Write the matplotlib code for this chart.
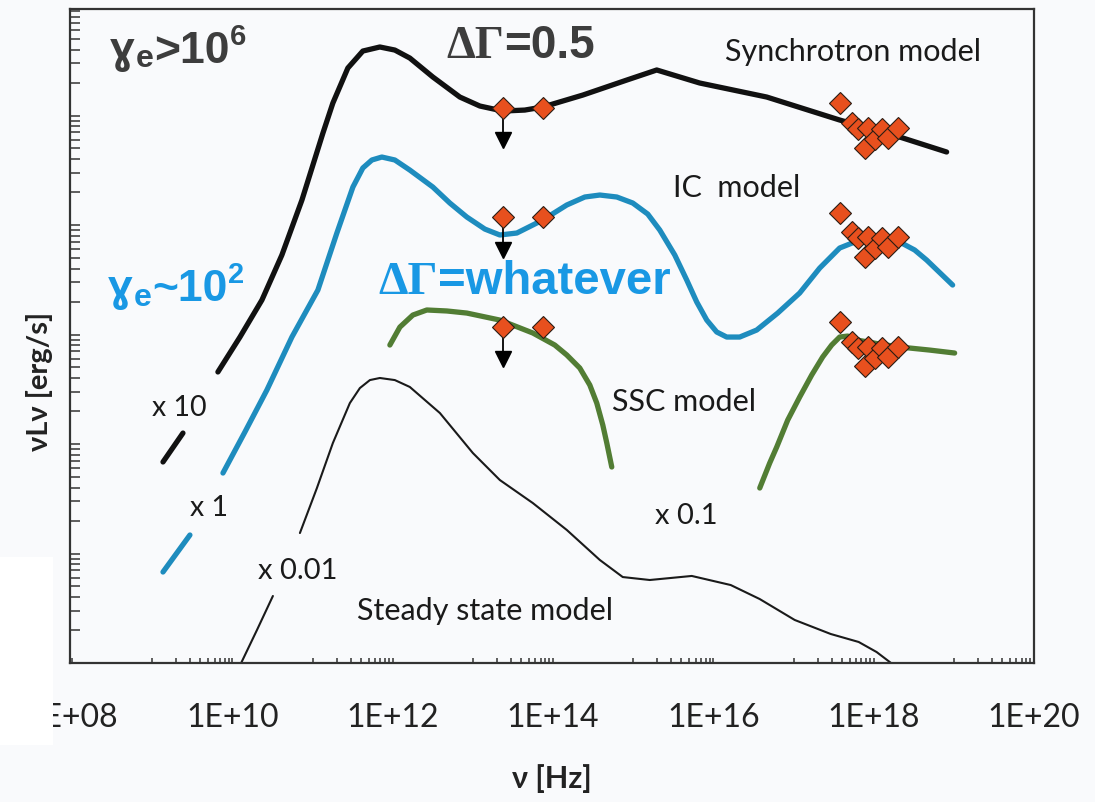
import numpy as np
import matplotlib.pyplot as plt
from matplotlib.patches import Rectangle
from matplotlib.ticker import FixedLocator, FuncFormatter, LogLocator, NullFormatter

plt.rcParams['font.family'] = ['Lato', 'DejaVu Sans']

# model SEDs: log10(nu [Hz]) and log10(nu L_nu [erg/s]), unscaled
sync_log_nu = [9.135, 9.384, np.nan, 9.820, 10.095, 10.369, 10.618, 10.868, 11.130, 11.254,
               11.441, 11.628, 11.840, 12.027, 12.214, 12.501, 12.838, 13.087, 13.374, 13.648,
               13.873, 14.372, 14.920, 15.294, 15.830, 16.666, 17.576, 18.324, 18.910]
sync_log_lum = [40.836, 41.100, np.nan, 41.658, 41.977, 42.315, 42.726, 43.228, 43.840, 44.114,
                44.434, 44.589, 44.626, 44.598, 44.525, 44.352, 44.169, 44.087, 44.041, 44.050,
                44.078, 44.187, 44.324, 44.416, 44.297, 44.169, 43.959, 43.804, 43.667]

ic_log_nu = [9.135, 9.471, np.nan, 9.883, 10.157, 10.431, 10.743, 11.067, 11.304, 11.504,
             11.628, 11.741, 11.865, 12.027, 12.214, 12.501, 12.713, 12.925, 13.150, 13.337,
             13.549, 13.873, 14.172, 14.397, 14.584, 14.796, 14.995, 15.182, 15.332, 15.519,
             15.668, 15.793, 15.918, 16.042, 16.167, 16.329, 16.541, 16.803, 17.077, 17.327,
             17.576, 17.825, 18.075, 18.324, 18.511, 18.661, 18.985]
ic_log_lum = [40.831, 41.169, np.nan, 41.735, 42.110, 42.493, 42.977, 43.406, 43.927, 44.347,
              44.521, 44.594, 44.621, 44.594, 44.502, 44.347, 44.201, 44.073, 43.963, 43.909,
              43.927, 44.046, 44.183, 44.256, 44.274, 44.256, 44.201, 44.100, 43.954, 43.726,
              43.498, 43.297, 43.132, 43.023, 42.977, 42.977, 43.041, 43.196, 43.379, 43.607,
              43.790, 43.863, 43.881, 43.845, 43.772, 43.680, 43.452]

ssc_log_nu = [11.965, 12.090, 12.252, 12.426, 12.676, 12.925, 13.337, 13.748, 14.022, 14.172,
              14.334, 14.459, 14.546, 14.621, 14.671, 14.733, np.nan, 16.579, 16.703, 16.791,
              16.928, 17.077, 17.227, 17.364, 17.476, 17.576, 17.676, 17.788, 18.075, 18.324,
              18.698, 19.010]
ssc_log_lum = [43.904, 44.068, 44.178, 44.224, 44.215, 44.196, 44.132, 44.014, 43.904, 43.813,
               43.694, 43.539, 43.374, 43.174, 43.009, 42.790, np.nan, 42.598, 42.826, 42.973,
               43.219, 43.429, 43.630, 43.795, 43.904, 43.977, 43.986, 43.950, 43.913, 43.886,
               43.858, 43.831]

steady_log_nu = [10.032, 10.307, 10.506, np.nan, 10.843, 11.055, 11.254, 11.466, 11.591, 11.716,
                 11.840, 12.027, 12.214, 12.589, 13.000, 13.337, 13.748, 14.172, 14.584, 14.870,
                 15.207, 15.731, 16.217, 16.579, 17.015, 17.464, 17.813, 18.037, 18.299]
steady_log_lum = [41.881, 42.301, 42.612, np.nan, 43.187, 43.598, 44.009, 44.374, 44.511, 44.584,
                  44.603, 44.584, 44.521, 44.283, 43.918, 43.671, 43.461, 43.215, 42.941, 42.785,
                  42.758, 42.795, 42.712, 42.584, 42.393, 42.265, 42.192, 42.100, 41.954]

# observed fluxes (first one is an upper limit)
obs_log_nu = [13.374, 13.873, 17.576, 17.726, 17.800, 17.888, 17.925, 18.012, 18.100, 18.175, 18.299]
obs_log_lum = [44.073, 44.073, 44.110, 43.936, 43.881, 43.708, 43.890, 43.790, 43.881, 43.799, 43.890]
obs_upper = [True, False, False, False, False, False, False, False, False, False, False]

# vertical offsets used to separate the models
sync_scale = 10
ic_scale = 1
ssc_scale = 0.1
steady_scale = 0.01

BG = '#f9fafc'
fig = plt.figure(figsize=(10.95, 8.02), dpi=100, facecolor=BG)
ax = fig.add_axes([70 / 1095, 139 / 802, 964 / 1095, 654 / 802], facecolor=BG)
ax.set_xscale('log')
ax.set_yscale('log')
ax.set_xlim(10 ** 7.975, 1e20)
ax.set_ylim(1e40, 10 ** 45.973)


def draw_model(log_nu, log_lum, scale, color, lw, with_data=True):
    nu = 10 ** np.array(log_nu)
    lum = 10 ** np.array(log_lum) * scale
    ax.plot(nu, lum, color=color, lw=lw, solid_capstyle='round', solid_joinstyle='round', zorder=2)
    if not with_data:
        return
    onu = 10 ** np.array(obs_log_nu)
    olum = 10 ** np.array(obs_log_lum) * scale
    for x, y, up in zip(onu, olum, obs_upper):
        if up:
            ax.plot([x, x], [y, y * 10 ** -0.25], color='black', lw=1.3, zorder=3)
            ax.plot(x, y * 10 ** -0.30, marker='v', ms=12, color='black', zorder=3)
    ax.plot(onu, olum, 'D', ms=11.5, mfc='#e8501e', mec='#2b1d14', mew=0.8, zorder=4)


draw_model(sync_log_nu, sync_log_lum, sync_scale, '#111111', 3.8)
draw_model(ic_log_nu, ic_log_lum, ic_scale, '#1e8cbe', 3.8)
draw_model(ssc_log_nu, ssc_log_lum, ssc_scale, '#527d34', 3.8)
draw_model(steady_log_nu, steady_log_lum, steady_scale, '#1a1a1a', 1.5, with_data=False)

# axes frame and ticks
for s in ax.spines.values():
    s.set_linewidth(1.6)
    s.set_color('#333333')

major_x = [10.0 ** d for d in range(8, 21, 2)]
minor_x = [k * 10.0 ** d for d in range(9, 20, 2) for k in range(1, 10)]
ax.xaxis.set_major_locator(FixedLocator(major_x))
ax.xaxis.set_minor_locator(FixedLocator(minor_x))
ax.xaxis.set_major_formatter(FuncFormatter(lambda v, p: '1E+%02d' % round(np.log10(v))))
ax.xaxis.set_minor_formatter(NullFormatter())
ax.tick_params(axis='x', which='both', direction='in', length=3.5, width=1.1, color='#333333')
ax.tick_params(axis='x', which='major', pad=29, labelsize=23, labelcolor='#222222')

ax.yaxis.set_major_locator(LogLocator(base=10, numticks=20))
ax.yaxis.set_minor_locator(LogLocator(base=10, subs=np.arange(2, 10), numticks=20))
ax.yaxis.set_major_formatter(NullFormatter())
ax.yaxis.set_minor_formatter(NullFormatter())
ax.tick_params(axis='y', which='both', direction='in', length=7, width=1.1, color='#333333')

ax.set_xlabel('ν [Hz]', fontsize=22, fontweight='bold', labelpad=22, color='#222222')
ax.set_ylabel('νLν [erg/s]', fontsize=21, fontweight='bold', color='#222222')
ax.yaxis.set_label_coords(-0.018, 0.43)

# model names and offsets
lbl = dict(transform=ax.transAxes, color='#1a1a1a', va='center', ha='left')
ax.text(0.6795, 0.9343, 'Synchrotron model', fontsize=22, **lbl)
ax.text(0.6255, 0.7263, 'IC  model', fontsize=22, **lbl)
ax.text(0.5622, 0.3991, 'SSC model', fontsize=22, **lbl)
ax.text(0.2977, 0.0795, 'Steady state model', fontsize=22, **lbl)
ax.text(0.0851, 0.3899, 'x 10', fontsize=20.5, **lbl)
ax.text(0.1245, 0.2370, 'x 1', fontsize=20.5, **lbl)
ax.text(0.1950, 0.1407, 'x 0.01', fontsize=21, **lbl)
ax.text(0.6068, 0.2248, 'x 0.1', fontsize=21, **lbl)


def bold_label(x, y, parts, color):
    """Write pieces side by side on a common baseline; each piece is (text, size, rise in pt)."""
    prev = None
    for s, size, rise in parts:
        kw = dict(fontsize=size, fontweight='bold', color=color, ha='left', va='baseline',
                  family=['Liberation Sans', 'DejaVu Sans'])
        if prev is None:
            prev = ax.text(x, y, s, transform=ax.transAxes, **kw)
            prev.set_y(y + rise / 654 / 0.72)
        else:
            prev = ax.annotate(s, xy=(1, y), xycoords=(prev, ax.transAxes),
                               xytext=(0.5, rise), textcoords='offset points', **kw)


dark = '#3d3d3d'
blue = '#1998e4'
bold_label(0.0415, 0.917, [('ɣ', 32, 0), ('e', 23, -3), ('>10', 32, 0), ('6', 21, 13)], dark)
bold_label(0.0395, 0.553, [('ɣ', 32, 0), ('e', 23, -3), ('~10', 32, 0), ('2', 21, 13)], blue)

t1 = ax.text(0.390, 0.942, 'ΔΓ', transform=ax.transAxes, fontsize=33,
             family='Liberation Serif', fontweight='bold', color=dark, va='center', ha='left')
ax.annotate('=0.5', xy=(1, 0), xycoords=t1, fontsize=33, family='Liberation Sans',
            fontweight='bold', color=dark, va='bottom', ha='left')
t2 = ax.text(0.3195, 0.581, 'ΔΓ', transform=ax.transAxes, fontsize=34,
             family='Liberation Serif', fontweight='bold', color=blue, va='center', ha='left')
ax.annotate('=whatever', xy=(1, 0), xycoords=t2, fontsize=34, family='Liberation Sans',
            fontweight='bold', color=blue, va='bottom', ha='left')

# white strip over the left edge of the first tick label
fig.patches.append(Rectangle((0, 57 / 802), 53 / 1095, 188 / 802, transform=fig.transFigure,
                             facecolor='white', edgecolor='none', zorder=5))

fig.savefig('out.png', dpi=100, facecolor=BG)
